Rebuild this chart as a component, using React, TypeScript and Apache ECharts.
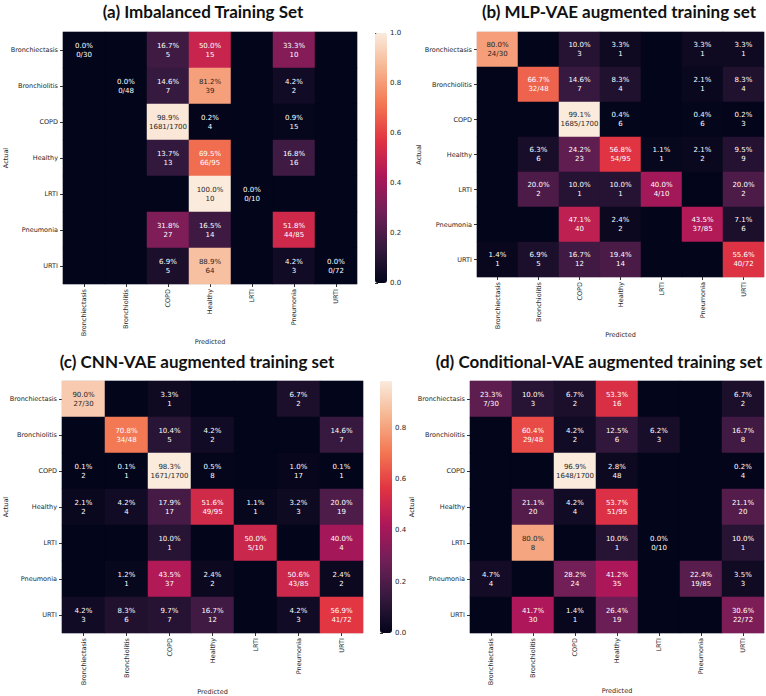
import React, { useEffect, useRef } from "react";
import * as echarts from "echarts";

const categories = ["Bronchiectasis", "Bronchiolitis", "COPD", "Healthy", "LRTI", "Pneumonia", "URTI"];
const totals = [30, 48, 1700, 95, 10, 85, 72];

const titles = [
  "(a) Imbalanced Training Set",
  "(b) MLP-VAE augmented training set",
  "(c) CNN-VAE augmented training set",
  "(d) Conditional-VAE augmented training set",
];

// rows = Actual, cols = Predicted
const pctA = [
  [0.0, 0, 16.7, 50.0, 0, 33.3, 0],
  [0, 0.0, 14.6, 81.2, 0, 4.2, 0],
  [0, 0, 98.9, 0.2, 0, 0.9, 0],
  [0, 0, 13.7, 69.5, 0, 16.8, 0],
  [0, 0, 0, 100.0, 0.0, 0, 0],
  [0, 0, 31.8, 16.5, 0, 51.8, 0],
  [0, 0, 6.9, 88.9, 0, 4.2, 0.0],
];
const cntA = [
  [0, 0, 5, 15, 0, 10, 0],
  [0, 0, 7, 39, 0, 2, 0],
  [0, 0, 1681, 4, 0, 15, 0],
  [0, 0, 13, 66, 0, 16, 0],
  [0, 0, 0, 10, 0, 0, 0],
  [0, 0, 27, 14, 0, 44, 0],
  [0, 0, 5, 64, 0, 3, 0],
];

const pctB = [
  [80.0, 0, 10.0, 3.3, 0, 3.3, 3.3],
  [0, 66.7, 14.6, 8.3, 0, 2.1, 8.3],
  [0, 0, 99.1, 0.4, 0, 0.4, 0.2],
  [0, 6.3, 24.2, 56.8, 1.1, 2.1, 9.5],
  [0, 20.0, 10.0, 10.0, 40.0, 0, 20.0],
  [0, 0, 47.1, 2.4, 0, 43.5, 7.1],
  [1.4, 6.9, 16.7, 19.4, 0, 0, 55.6],
];
const cntB = [
  [24, 0, 3, 1, 0, 1, 1],
  [0, 32, 7, 4, 0, 1, 4],
  [0, 0, 1685, 6, 0, 6, 3],
  [0, 6, 23, 54, 1, 2, 9],
  [0, 2, 1, 1, 4, 0, 2],
  [0, 0, 40, 2, 0, 37, 6],
  [1, 5, 12, 14, 0, 0, 40],
];

const pctC = [
  [90.0, 0, 3.3, 0, 0, 6.7, 0],
  [0, 70.8, 10.4, 4.2, 0, 0, 14.6],
  [0.1, 0.1, 98.3, 0.5, 0, 1.0, 0.1],
  [2.1, 4.2, 17.9, 51.6, 1.1, 3.2, 20.0],
  [0, 0, 10.0, 0, 50.0, 0, 40.0],
  [0, 1.2, 43.5, 2.4, 0, 50.6, 2.4],
  [4.2, 8.3, 9.7, 16.7, 0, 4.2, 56.9],
];
const cntC = [
  [27, 0, 1, 0, 0, 2, 0],
  [0, 34, 5, 2, 0, 0, 7],
  [2, 1, 1671, 8, 0, 17, 1],
  [2, 4, 17, 49, 1, 3, 19],
  [0, 0, 1, 0, 5, 0, 4],
  [0, 1, 37, 2, 0, 43, 2],
  [3, 6, 7, 12, 0, 3, 41],
];

const pctD = [
  [23.3, 10.0, 6.7, 53.3, 0, 0, 6.7],
  [0, 60.4, 4.2, 12.5, 6.2, 0, 16.7],
  [0, 0, 96.9, 2.8, 0, 0, 0.2],
  [0, 21.1, 4.2, 53.7, 0, 0, 21.1],
  [0, 80.0, 0, 10.0, 0.0, 0, 10.0],
  [4.7, 0, 28.2, 41.2, 0, 22.4, 3.5],
  [0, 41.7, 1.4, 26.4, 0, 0, 30.6],
];
const cntD = [
  [7, 3, 2, 16, 0, 0, 2],
  [0, 29, 2, 6, 3, 0, 8],
  [0, 0, 1648, 48, 0, 0, 4],
  [0, 20, 4, 51, 0, 0, 20],
  [0, 8, 0, 1, 0, 0, 1],
  [4, 0, 24, 35, 0, 19, 3],
  [0, 30, 1, 19, 0, 0, 22],
];

const colorbarTicks = ["0.0", "0.2", "0.4", "0.6", "0.8", "1.0"];

const rocket = ["#03051a", "#35193e", "#701f57", "#ad1759", "#e13342", "#f37651", "#f6b48f", "#faebdd"];

const panels = [
  { pct: pctA, cnt: cntA },
  { pct: pctB, cnt: cntB },
  { pct: pctC, cnt: cntC },
  { pct: pctD, cnt: cntD },
];

// layout (band sizes kept integral)
const grids = [
  { left: 63, top: 32, width: 294, height: 252 },
  { left: 477, top: 32, width: 287, height: 245 },
  { left: 62, top: 381, width: 301, height: 252 },
  { left: 470, top: 381, width: 294, height: 252 },
];
const actualGaps = [54, 55, 53, 55];
const predictedGaps = [54, 54, 55, 54];
const titlePos = [
  { x: 203, y: 3 },
  { x: 619, y: 3 },
  { x: 197, y: 353 },
  { x: 599, y: 353 },
];
const colorbars = [
  { panel: 0, left: 375, top: 33, width: 12, height: 250 },
  { panel: 2, left: 380, top: 381, width: 12, height: 252 },
];

const FONT = "'DejaVu Sans', sans-serif";

function App() {
  const ref = useRef<HTMLDivElement>(null);
  useEffect(() => {
    if (!ref.current) return;
    const chart = echarts.init(ref.current, null, { renderer: "svg" });

    const maxes = panels.map((p) => Math.max(...p.pct.flat()) / 100);

    const grid: any[] = [];
    const xAxis: any[] = [];
    const yAxis: any[] = [];
    const series: any[] = [];
    const visualMap: any[] = [];

    panels.forEach((p, i) => {
      const g = grids[i];
      grid.push({
        ...g,
        show: true,
        borderColor: "#d8d8e0",
        borderWidth: 1,
        backgroundColor: rocket[0],
        containLabel: false,
        outerBoundsMode: "none",
      });
      xAxis.push({
        type: "category",
        gridIndex: i,
        data: categories,
        name: "Predicted",
        nameLocation: "middle",
        nameGap: predictedGaps[i],
        nameMoveOverlap: false,
        nameTextStyle: { fontSize: 6.5, color: "#262626", fontFamily: FONT },
        axisLine: { show: false },
        axisTick: { show: true, alignWithLabel: true, length: 3, lineStyle: { color: "#333" } },
        axisLabel: { rotate: 90, fontSize: 6.5, color: "#262626", margin: 5, fontFamily: FONT },
        splitLine: { show: false },
        splitArea: { show: false },
      });
      yAxis.push({
        type: "category",
        gridIndex: i,
        data: categories,
        inverse: true,
        name: "Actual",
        nameLocation: "middle",
        nameGap: actualGaps[i],
        nameMoveOverlap: false,
        nameTextStyle: { fontSize: 6.5, color: "#262626", fontFamily: FONT },
        axisLine: { show: false },
        axisTick: { show: true, alignWithLabel: true, length: 3, lineStyle: { color: "#333" } },
        axisLabel: { fontSize: 6.5, color: "#262626", margin: 5, fontFamily: FONT },
        splitLine: { show: false },
        splitArea: { show: false },
      });
      const data: any[] = [];
      for (let r = 0; r < categories.length; r++) {
        for (let c = 0; c < categories.length; c++) {
          const v = p.pct[r][c] / 100;
          const dark = v / maxes[i] > 0.75;
          data.push({
            value: [c, r, v],
            label: { color: dark ? "#262626" : "#ffffff" },
          });
        }
      }
      series.push({
        type: "heatmap",
        xAxisIndex: i,
        yAxisIndex: i,
        data,
        emphasis: { disabled: true },
        label: {
          show: true,
          fontSize: 7,
          lineHeight: 9,
          fontFamily: FONT,
          formatter: (params: any) => {
            const [c, r] = params.value;
            const cnt = p.cnt[r][c];
            const pc = p.pct[r][c];
            if (r !== c && cnt === 0) return "";
            const second = r === c ? `${cnt}/${totals[r]}` : `${cnt}`;
            return `${pc.toFixed(1)}%\n${second}`;
          },
        },
      });
      visualMap.push({
        type: "continuous",
        seriesIndex: i,
        dimension: 2,
        min: 0,
        max: maxes[i],
        calculable: false,
        show: false,
        inRange: { color: rocket },
      });
    });

    colorbars.forEach((cb) => {
      const idx = grid.length;
      const vmIdx = cb.panel;
      visualMap[vmIdx] = {
        ...visualMap[vmIdx],
        show: true,
        left: cb.left,
        top: cb.top,
        itemWidth: cb.width,
        itemHeight: cb.height,
        padding: 0,
        text: null,
        orient: "vertical",
      };
      grid.push({
        left: cb.left,
        top: cb.top,
        width: cb.width,
        height: cb.height,
        show: false,
        containLabel: false,
        outerBoundsMode: "none",
      });
      xAxis.push({ type: "value", gridIndex: idx, show: false });
      yAxis.push({
        type: "value",
        gridIndex: idx,
        position: "right",
        min: 0,
        max: maxes[cb.panel],
        interval: 0.2,
        splitLine: { show: false },
        axisLine: { show: false },
        axisTick: { show: true, length: 3, lineStyle: { color: "#333" } },
        axisLabel: {
          fontSize: 7,
          color: "#262626",
          margin: 3,
          fontFamily: FONT,
          showMaxLabel: maxes[cb.panel] >= 0.999,
          formatter: (v: number) => {
            const i = Math.round(v / 0.2);
            return colorbarTicks[i] ?? "";
          },
        },
      });
    });

    const title = titles.map((t, i) => ({
      text: t,
      left: titlePos[i].x,
      top: titlePos[i].y,
      textAlign: "center",
      padding: 0,
      textStyle: { fontSize: 17, fontWeight: "bold", fontFamily: "Lato, sans-serif", color: "#111" },
    }));

    chart.setOption({
      animation: false,
      textStyle: { fontFamily: FONT },
      title,
      grid,
      xAxis,
      yAxis,
      visualMap,
      series,
    });
    return () => chart.dispose();
  }, []);
  return (
    <div
      ref={ref}
      style={{ position: "fixed", left: 0, top: 0, width: 766, height: 696, background: "#fff" }}
    />
  );
}

export default App;
